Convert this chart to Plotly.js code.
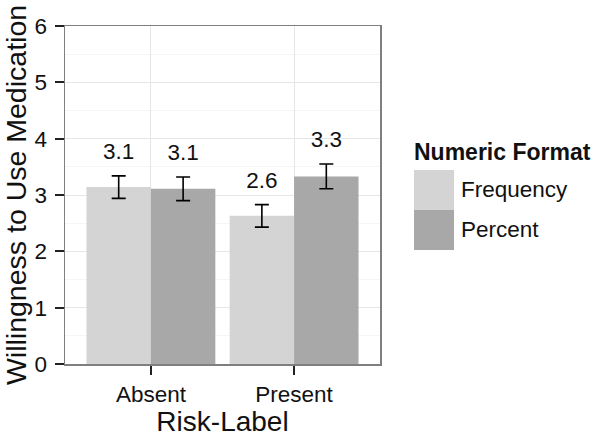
<!DOCTYPE html>
<html>
<head>
<meta charset="utf-8">
<script src="https://cdn.plot.ly/plotly-3.0.1.min.js"></script>
<style>
  html, body { margin: 0; padding: 0; background: #ffffff; }
  #chart { width: 602px; height: 440px; }
</style>
</head>
<body>
<div id="chart"></div>
<script>
// ---- data ----
var categories = ["Absent", "Present"];
var seriesNames = ["Frequency", "Percent"];
var frequencyMeans = [3.14, 2.63];
var percentMeans = [3.11, 3.33];
var frequencyErr = [0.20, 0.20];
var percentErr = [0.21, 0.22];
var yTicks = [0, 1, 2, 3, 4, 5, 6];
var legendTitle = "Numeric Format";
var xTitle = "Risk-Label";
var yTitle = "Willingness to Use Medication";

var colors = ["#d4d4d4", "#a8a8a8"];
var barW = 0.45;
var labelGap = 0.40;
var FONT = "Liberation Sans, Arial, sans-serif";

var catIdx = categories.map(function (c, i) { return i; });
var series = [
  { name: seriesNames[0], y: frequencyMeans, e: frequencyErr, off: -barW / 2, color: colors[0] },
  { name: seriesNames[1], y: percentMeans, e: percentErr, off: barW / 2, color: colors[1] }
];

var traces = [];
series.forEach(function (s) {
  var xs = catIdx.map(function (i) { return i + s.off; });
  traces.push({
    type: "bar",
    name: s.name,
    x: xs,
    y: s.y,
    width: barW,
    marker: { color: s.color, line: { width: 0 } },
    error_y: { type: "data", array: s.e, visible: true, color: "#000000", thickness: 1.6, width: 7 },
    showlegend: false,
    hoverinfo: "skip"
  });
});
series.forEach(function (s) {
  var xs = catIdx.map(function (i) { return i + s.off; });
  traces.push({
    type: "scatter",
    mode: "text",
    x: xs,
    y: s.y.map(function (v, i) { return v + s.e[i] + labelGap; }),
    text: s.y.map(function (v) { return v.toFixed(1); }),
    textposition: "middle center",
    textfont: { family: FONT, size: 22.5, color: "#111111" },
    showlegend: false,
    hoverinfo: "skip"
  });
});

// custom legend (ggplot-like large keys)
var shapes = [];
var annotations = [];
var keyX0 = 1.108, keyX1 = 1.235;
var keyTop = 0.574, keyH = 0.1183;
series.forEach(function (s, k) {
  var y1 = keyTop - k * keyH, y0 = y1 - keyH;
  shapes.push({ type: "rect", xref: "paper", yref: "paper", x0: keyX0, x1: keyX1, y0: y0, y1: y1,
    fillcolor: s.color, line: { width: 0 }, layer: "above" });
  annotations.push({ xref: "paper", yref: "paper", x: 1.251, y: (y0 + y1) / 2, xanchor: "left", yanchor: "middle",
    text: s.name, showarrow: false, font: { family: FONT, size: 22.5, color: "#111111" } });
});
annotations.push({ xref: "paper", yref: "paper", x: 1.102, y: 0.627, xanchor: "left", yanchor: "middle",
  text: "<b>" + legendTitle + "</b>", showarrow: false, font: { family: FONT, size: 23, color: "#111111" } });

var layout = {
  width: 602, height: 440,
  margin: { l: 65, r: 222, t: 26, b: 76, pad: 0 },
  paper_bgcolor: "#ffffff",
  plot_bgcolor: "#ffffff",
  showlegend: false,
  font: { family: FONT, color: "#111111" },
  xaxis: {
    range: [-0.6, 1.6],
    tickmode: "array",
    tickvals: catIdx,
    ticktext: categories,
    showgrid: true, gridcolor: "#e6e6e6", gridwidth: 1,
    zeroline: false,
    showline: true, mirror: true, linecolor: "#7f7f7f", linewidth: 1.5,
    ticks: "outside", ticklen: 9, tickwidth: 2, tickcolor: "#222222",
    tickfont: { family: FONT, size: 22.5, color: "#111111" },
    title: { text: xTitle, font: { family: FONT, size: 28, color: "#111111" }, standoff: 0 },
    fixedrange: true
  },
  yaxis: {
    range: [0, 6],
    tickmode: "array",
    tickvals: yTicks,
    ticktext: yTicks.map(String),
    showgrid: true, gridcolor: "#e6e6e6", gridwidth: 1,
    minor: { tickmode: "linear", tick0: 0.5, dtick: 1, showgrid: true, gridcolor: "#f5f5f5", gridwidth: 1, ticks: "" },
    zeroline: false,
    showline: true, mirror: true, linecolor: "#7f7f7f", linewidth: 1.5,
    ticks: "outside", ticklen: 9, tickwidth: 2, tickcolor: "#222222",
    ticklabelstandoff: 3,
    tickfont: { family: FONT, size: 22.5, color: "#111111" },
    title: { text: yTitle, font: { family: FONT, size: 28.5, color: "#111111" }, standoff: 0 },
    fixedrange: true
  },
  shapes: shapes,
  annotations: annotations
};

Plotly.newPlot("chart", traces, layout, { staticPlot: true, displayModeBar: false });
</script>
</body>
</html>
